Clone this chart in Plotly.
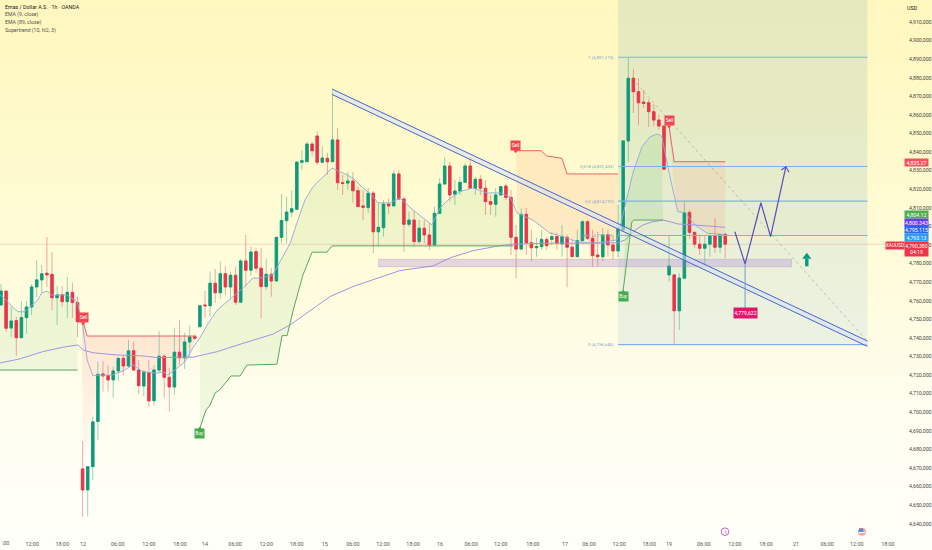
import plotly.graph_objects as go

W, H = 932, 550
# ---- candle data (price in thousands as shown on the axis, bar index on x)
opens = [4757.7,4765.2,4745.3,4749.3,4740.1,4750.9,4756.6,4767.4,4771.2,4774.8,4774.2,4761.6,4763.2,4759.5,4764.5,4759.0,
4669.5,4658.2,4670.7,4695.0,4720.6,4719.7,4717.4,4722.2,4729.0,4724.9,4733.1,4722.7,4714.1,4721.3,4706.2,4722.7,
4730.1,4718.8,4713.6,4732.3,4729.2,4737.8,4740.7,4746.0,4757.7,4757.3,4769.4,4764.3,4774.5,4767.4,4773.7,4759.2,
4781.4,4776.4,4786.4,4777.5,4767.6,4774.2,4770.6,4794.1,4803.1,4807.7,4809.2,4834.5,4834.8,4844.3,4848.6,4834.5,
4836.6,4834.8,4846.5,4823.5,4823.3,4824.4,4819.2,4811.0,4810.1,4817.8,4797.1,4799.3,4812.0,4811.0,4828.2,4814.7,
4801.1,4803.4,4791.8,4799.0,4795.4,4790.0,4807.0,4822.8,4832.5,4817.3,4819.0,4823.7,4832.5,4820.5,4825.3,4820.5,
4813.3,4811.9,4816.9,4821.7,4815.6,4794.1,4787.8,4806.5,4791.2,4788.5,4789.1,4793.0,4793.0,4794.5,4790.5,4794.1,
4788.8,4783.7,4792.3,4802.5,4793.6,4784.6,4783.7,4795.4,4790.0,4786.8,4798.1,4846.0,4879.7,4872.5,4866.9,4866.5,
4861.7,4857.2,4854.0,4773.9,4773.9,4754.6,4772.1,4807.4,4796.8,4790.4,4788.2,4790.4,4795.0,4788.8,4795.7]
highs = [4769.0,4765.2,4756.6,4751.3,4759.9,4759.9,4769.0,4781.9,4779.2,4794.3,4786.2,4768.0,4768.0,4772.8,4769.7,4762.2,
4684.5,4671.1,4697.6,4727.2,4727.6,4725.4,4724.5,4729.2,4730.8,4738.9,4738.0,4728.1,4722.7,4728.1,4725.4,4743.7,
4731.2,4723.8,4745.5,4749.6,4742.6,4746.6,4742.1,4757.7,4765.2,4775.6,4777.1,4781.0,4778.7,4775.6,4778.3,4782.5,
4795.4,4789.1,4788.4,4788.4,4782.5,4777.6,4794.3,4817.4,4816.0,4819.6,4834.6,4841.1,4845.6,4845.6,4851.0,4843.2,
4839.6,4873.4,4852.9,4827.7,4829.3,4829.4,4821.4,4819.6,4820.7,4819.0,4812.6,4814.2,4815.1,4830.0,4830.3,4816.0,
4807.9,4808.3,4803.4,4803.4,4801.7,4810.6,4825.9,4837.2,4834.8,4825.0,4826.7,4834.0,4837.5,4826.7,4827.6,4825.0,
4816.9,4820.7,4821.7,4822.8,4819.6,4800.8,4809.7,4809.9,4798.1,4793.8,4798.1,4794.5,4797.1,4796.4,4800.8,4795.4,
4792.7,4798.1,4803.4,4803.4,4798.1,4797.1,4799.1,4798.1,4794.5,4811.5,4846.0,4891.1,4884.7,4879.8,4873.4,4868.5,
4865.8,4859.9,4854.0,4794.8,4773.9,4774.9,4813.8,4808.8,4797.0,4795.4,4795.4,4796.4,4804.4,4795.9,4796.6]
lows = [4757.7,4743.2,4740.5,4730.3,4740.1,4742.1,4752.3,4762.0,4764.2,4767.4,4755.0,4747.0,4756.8,4750.7,4750.7,4740.5,
4643.8,4643.8,4663.6,4685.1,4711.1,4711.1,4707.8,4716.8,4720.0,4723.8,4722.7,4709.8,4708.4,4703.0,4703.5,4721.8,
4707.8,4700.3,4709.3,4725.4,4723.3,4729.2,4738.9,4746.0,4750.7,4751.4,4758.8,4761.0,4763.1,4761.5,4757.7,4759.2,
4767.6,4773.5,4775.0,4750.5,4765.8,4762.2,4770.6,4790.9,4790.9,4805.0,4809.2,4830.3,4834.8,4837.5,4833.0,4834.1,
4827.7,4834.6,4819.6,4816.9,4819.6,4812.7,4810.6,4803.4,4807.2,4785.7,4789.1,4794.5,4806.7,4811.0,4814.2,4786.4,
4799.8,4789.1,4790.9,4790.9,4787.3,4790.0,4807.0,4822.3,4813.3,4811.5,4816.9,4823.3,4820.5,4816.9,4816.9,4806.1,
4806.1,4805.2,4816.9,4814.2,4784.6,4772.1,4787.8,4784.6,4781.0,4783.7,4787.3,4787.3,4790.0,4787.3,4783.7,4767.2,
4783.7,4783.7,4792.3,4792.7,4778.3,4778.3,4781.0,4783.7,4782.0,4783.5,4797.0,4834.8,4861.0,4854.6,4863.7,4853.5,
4854.0,4851.9,4830.3,4770.2,4736.2,4744.3,4772.1,4793.2,4788.4,4784.6,4779.2,4783.7,4785.7,4785.7,4782.8]
closes = [4765.2,4745.2,4749.1,4740.1,4750.9,4756.6,4767.4,4771.2,4774.5,4773.9,4761.6,4763.1,4759.5,4764.5,4759.0,4748.7,
4658.2,4670.7,4694.8,4720.4,4719.5,4717.4,4722.2,4729.0,4724.9,4733.0,4722.7,4714.3,4721.7,4706.1,4722.7,4730.1,
4718.8,4713.6,4732.3,4729.2,4737.8,4740.5,4739.8,4757.3,4757.3,4769.4,4764.3,4774.5,4767.4,4773.7,4759.2,4781.4,
4776.4,4786.2,4777.5,4767.6,4774.2,4770.6,4794.1,4803.1,4807.7,4809.5,4834.6,4835.3,4844.3,4840.7,4834.5,4836.8,
4834.8,4846.5,4823.5,4823.1,4824.4,4819.2,4810.6,4810.3,4817.8,4797.1,4799.5,4812.0,4811.0,4828.2,4814.7,4801.1,
4803.4,4791.8,4799.0,4795.4,4790.0,4807.0,4822.8,4832.5,4816.9,4819.0,4823.7,4832.5,4820.5,4825.3,4820.5,4813.3,
4811.9,4816.9,4821.4,4815.6,4794.1,4787.8,4806.5,4791.2,4788.5,4789.1,4793.0,4789.6,4794.5,4790.9,4794.5,4788.8,
4783.7,4792.3,4802.5,4793.6,4784.2,4783.7,4795.4,4790.0,4786.8,4798.6,4846.0,4879.7,4872.5,4866.5,4866.2,4861.7,
4857.2,4854.0,4830.7,4778.7,4754.6,4772.2,4807.4,4796.8,4790.4,4788.2,4790.4,4795.0,4788.8,4795.7,4790.4]

# ---- indicator vertices
ema9_x = [-0.2,0.8,2.2,3.3,4.7,5.7,7.1,8.0,9.0,10.2,11.2,12.9,14.9,15.9,16.9,18.0,21.8,23.9,25.9,27.8,30.6,31.8,32.7,34.1,36.1,37.6,39.0,40.4,42.4,43.5,45.5,47.5,49.4,50.8,53.3,54.7,56.7,58.0,59.6,61.2,63.1,64.9,67.1,69.0,71.0,72.7,73.9,76.3,78.2,80.8,84.5,86.1,87.6,90.0,92.5,95.3,97.8,99.8,101.2,104.3,107.6,110.2,112.9,116.1,120.8,122.7,123.9,125.7,127.3,128.8,129.6,130.8,132.2,132.7,134.1,136.1,138.4,142.0]
ema9_y = [4763.1,4761.0,4756.8,4754.1,4754.1,4756.8,4760.0,4764.2,4765.2,4762.6,4763.1,4763.1,4759.5,4748.7,4728.1,4719.8,4720.0,4722.2,4725.4,4721.8,4721.0,4721.8,4720.0,4722.7,4727.2,4734.6,4740.0,4746.9,4755.0,4757.7,4762.2,4766.9,4772.2,4772.2,4773.9,4781.0,4790.9,4801.7,4814.2,4821.4,4826.7,4831.4,4828.7,4826.0,4820.7,4816.9,4812.7,4812.6,4815.3,4808.8,4800.8,4809.9,4814.2,4818.7,4820.7,4818.0,4818.0,4816.0,4807.2,4803.4,4796.4,4794.5,4791.8,4790.9,4792.7,4814.2,4828.7,4842.9,4848.3,4849.7,4848.3,4831.4,4814.2,4807.9,4807.4,4800.7,4796.4,4795.4]
ema89_x = [-0.2,3.7,8.2,12.2,15.1,16.1,18.0,22.7,27.8,30.6,37.6,42.4,47.5,53.3,56.7,58.6,64.5,69.0,72.9,78.2,84.7,88.0,92.5,97.8,100.4,106.3,120.8,122.4,123.9,125.9,127.8,129.8,131.2,132.7,135.7,142.0]
ema89_y = [4726.5,4728.7,4732.6,4735.0,4736.2,4733.5,4732.0,4730.8,4730.3,4729.4,4729.6,4732.6,4737.1,4742.0,4747.0,4750.7,4762.2,4767.6,4771.2,4776.2,4778.7,4783.0,4786.9,4789.6,4790.4,4790.9,4791.1,4792.7,4797.1,4800.8,4802.5,4803.4,4802.5,4801.3,4800.8,4799.5]
st_up1_x = [-0.2,15.0]
st_up1_y = [4722.7,4722.7]
st_dn1_x = [15.9,16.9,38.2]
st_dn1_y = [4750.7,4741.0,4741.0]
st_up2_x = [39,40.2,41,42,42.9,44.3,45.1,46.9,48.2,54.1,55.1,56.1,57.3,59.2,61,63.9,64.9,100.4]
st_up2_y = [4691.5,4701.2,4703.9,4710.4,4712.0,4716.4,4719.5,4719.5,4725.4,4725.8,4741.2,4741.2,4755.0,4773.8,4786.1,4786.1,4789.5,4789.5]
st_dn2_x = [101,105.9,107,110,111,121]
st_dn2_y = [4840.7,4840.7,4837.9,4836.6,4828.2,4828.2]
st_up3_x = [122,123.7,124.1,129.8]
st_up3_y = [4765.8,4802.5,4803.4,4803.4]
st_dn3_x = [131,132,142]
st_dn3_y = [4853.6,4834.8,4834.8]
dn1_floor_x = [16,17.5,19]
dn1_floor_y = [4669.0,4685.0,4720.0]

# ---- drawings
fib_levels = [4891.0,4832.2,4813.6,4795.1,4736.4]
fib_labels = ["1 (4,891,219)","0,618 (4,832,453)","0,5 (4,814,192)","0,382 (4,795,115)","0 (4,736,645)"]
trend_x = [64.9,169.9]
trend_upper = [4873.9,4738.3]
trend_lower = [4871.0,4735.4]
path_x = [143.9,145.9,149.0,150.9,153.9]
path_y = [4797.1,4779.8,4812.7,4794.5,4832.1]
head_x = [153.0,153.9,154.5]
head_y = [4830.3,4832.1,4829.1]
target_x = [145.9,145.9]
target_y = [4779.8,4755.0]
dashed_x = [124.5,169.9]
dashed_y = [4877.2,4738.1]
zone_x = [74.0,155.0]
zone_y = [4778.3,4782.3]
rect_x = [121.0,169.9]
rect_top = 4921.8
rect_mid = 4795.0
rect_bot = 4736.2
last_price = 4790.38

price_ticks = list(range(4640, 4911, 10))
price_text = ["4,%d,000" % (v - 4000) for v in price_ticks]
time_ticks = [6.1,12,16.1,22.9,29,35.1,40,45.9,52,58,63.5,69,74.9,80.8,86.1,92.2,98,104.3,110.6,115.3,121.2,127.1,131,137.8,143.9,150,155.9,162,167.8,173.9]
time_text = ["12:00","18:00","12","06:00","12:00","18:00","14","06:00","12:00","18:00","15","06:00","12:00","18:00","16","06:00","12:00","18:00","17","06:00","12:00","18:00","19","06:00","12:00","18:00","21","06:00","12:00","18:00"]
legend_lines = ["EMA (9, close)","EMA (89, close)","Supertrend (10, hl2, 3)"]
legend_title = "Emas / Dollar A.S. · 1h · OANDA"

bg_rows = [0,0.2,0.4,0.6,0.8,1]
FONT = "Roboto"
XR = [-0.196, 176.08]
YR = [4633.4, 4921.8]
ymin_dom = 14/550

fig = go.Figure()
# background gradient across the whole page
fig.add_trace(go.Heatmap(x=[0,1], y=bg_rows, z=[[v,v] for v in bg_rows], zsmooth="best", showscale=False,
    zmin=0, zmax=1, hoverinfo="skip", xaxis="x", yaxis="y",
    colorscale=[[0,"#FFFFFA"],[0.25,"#FFFEF0"],[0.5,"#FFFCDC"],[0.75,"#FFFACB"],[1,"#FFF7BE"]]))

def slice_ema(a, b):
    pts = [(x, y) for x, y in zip(ema9_x, ema9_y) if a <= x <= b]
    return [p[0] for p in pts], [p[1] for p in pts]

def poly(xa, ya, xb, yb, color=None, grad=None):
    xs = list(xa) + list(xb)[::-1]
    ys = list(ya) + list(yb)[::-1]
    kw = dict(x=xs, y=ys, mode="lines", line=dict(width=0), fill="toself", hoverinfo="skip", xaxis="x2", yaxis="y2")
    if grad:
        kw["fillgradient"] = grad
    else:
        kw["fillcolor"] = color
    fig.add_trace(go.Scatter(**kw))

# position-tool rectangle (below candles)
poly(rect_x, [rect_top, rect_top], rect_x, [rect_mid, rect_mid], "rgba(100,160,180,0.16)")
poly(rect_x, [rect_mid, rect_mid], rect_x, [rect_bot, rect_bot], "rgba(100,170,205,0.13)")
# supertrend fills
xe, ye = slice_ema(-1, 15)
poly(xe, ye, st_up1_x, st_up1_y, "rgba(140,205,130,0.14)")
xe, ye = slice_ema(21, 38.2)
poly(st_dn1_x, st_dn1_y, dn1_floor_x + xe, dn1_floor_y + ye,
     grad=dict(type="vertical", colorscale=[[0,"rgba(250,190,175,0.04)"],[0.6,"rgba(250,175,160,0.20)"],[1,"rgba(250,170,150,0.30)"]]))
xe, ye = slice_ema(39, 100.4)
poly(xe, ye, st_up2_x, st_up2_y, "rgba(140,205,130,0.14)")
xe, ye = slice_ema(101, 120.8)
poly(st_dn2_x, st_dn2_y, xe, ye, "rgba(250,170,120,0.20)")
xe, ye = slice_ema(122, 129.7)
poly(xe, ye, st_up3_x, st_up3_y, "rgba(100,200,110,0.16)")
xe, ye = slice_ema(132, 142)
poly(st_dn3_x, st_dn3_y, xe, ye, "rgba(250,150,120,0.16)")

idx = list(range(len(opens)))
GREEN, RED = "#0C9B79", "#EA3348"
# wicks
fig.add_trace(go.Candlestick(x=idx, open=opens, high=highs, low=lows, close=closes, xaxis="x3", yaxis="y3",
    whiskerwidth=0, hoverinfo="skip",
    increasing=dict(line=dict(color="rgba(12,155,121,0.42)", width=1), fillcolor="rgba(0,0,0,0)"),
    decreasing=dict(line=dict(color="rgba(234,51,72,0.42)", width=1), fillcolor="rgba(0,0,0,0)")))
# bodies
fig.add_trace(go.Candlestick(x=idx, open=opens, close=closes,
    high=[max(o, c) for o, c in zip(opens, closes)], low=[min(o, c) for o, c in zip(opens, closes)],
    xaxis="x3", yaxis="y3", whiskerwidth=0, hoverinfo="skip",
    increasing=dict(line=dict(color=GREEN, width=0.8), fillcolor=GREEN),
    decreasing=dict(line=dict(color=RED, width=0.8), fillcolor=RED)))

def line(x, y, color, width=1, dash=None, mode="lines"):
    fig.add_trace(go.Scatter(x=x, y=y, mode=mode, line=dict(color=color, width=width, dash=dash),
                             hoverinfo="skip", xaxis="x3", yaxis="y3"))

line(XR, [last_price, last_price], "rgba(215,110,110,0.38)", 0.7)
for lv in fib_levels:
    line(rect_x, [lv, lv], "#7FB1E8", 1.15)
line(dashed_x, dashed_y, "rgba(125,130,125,0.55)", 0.8, "dot")
line(ema89_x, ema89_y, "#A294E2", 1)
line(ema9_x, ema9_y, "#93A9D8", 0.9)
line(st_up1_x, st_up1_y, "#5AA860", 1)
line(st_up2_x, st_up2_y, "#5AA860", 1)
line(st_up3_x, st_up3_y, "#5AA860", 1)
line(st_dn1_x, st_dn1_y, "#F0606A", 1)
line(st_dn2_x, st_dn2_y, "#F0606A", 1)
line(st_dn3_x, st_dn3_y, "#F0606A", 1)

# purple support zone
fig.add_trace(go.Scatter(x=[zone_x[0],zone_x[1],zone_x[1],zone_x[0],zone_x[0]],
    y=[zone_y[0],zone_y[0],zone_y[1],zone_y[1],zone_y[0]], mode="lines", fill="toself",
    fillcolor="rgba(160,120,215,0.28)", line=dict(color="rgba(160,120,215,0.4)", width=0.7),
    hoverinfo="skip", xaxis="x3", yaxis="y3"))
# trendline channel
fig.add_trace(go.Scatter(x=trend_x + trend_x[::-1], y=trend_upper + trend_lower[::-1], mode="lines", fill="toself",
    fillcolor="rgba(215,222,250,0.55)", line=dict(width=0), hoverinfo="skip", xaxis="x3", yaxis="y3"))
line(trend_x, trend_upper, "#3F5FC4", 0.95)
line(trend_x, trend_lower, "#3F5FC4", 0.95)
# projected path
line(target_x, target_y, "#6D9CDA", 1)
line(path_x, path_y, "#5A4DBA", 1.2)
line(head_x, head_y, "#5A4DBA", 1.1)
# green up arrow
line([158.0,158.0], [4778.5,4782.5], "#089981", 3.4)
fig.add_trace(go.Scatter(x=[158.0], y=[4783.6], mode="markers", marker=dict(symbol="triangle-up", size=8, color="#089981"),
    hoverinfo="skip", xaxis="x3", yaxis="y3"))

# signal labels
signals = [("Sell",16.1,4750.7),("Sell",100.9,4843.3),("Sell",131.0,4856.7),("Buy",39.0,4688.3),("Buy",122.0,4762.0)]
ann = []
for txt, sx, sy in signals:
    col = "#F0464F" if txt == "Sell" else "#43AC4C"
    offs = -2.9 if txt == "Sell" else 2.9
    fig.add_trace(go.Scatter(x=[sx], y=[sy+offs], mode="markers",
        marker=dict(symbol="triangle-down" if txt == "Sell" else "triangle-up", size=4, color=col),
        hoverinfo="skip", xaxis="x3", yaxis="y3"))
    ann.append(dict(x=sx, y=sy, xref="x3", yref="y3", text=txt, showarrow=False, bgcolor=col, width=9, height=8.5,
                    xanchor="center", borderpad=0, font=dict(family=FONT, size=4.8, color="white")))
# target tag
ann.append(dict(x=145.9, y=4753.4, xref="x3", yref="y3", text="4,779,622", showarrow=False, bgcolor="#E0186C",
                width=23, height=9.5, xanchor="center", borderpad=0, font=dict(family=FONT, size=5.2, color="white")))
# fib labels
for lv, t in zip(fib_levels, fib_labels):
    ann.append(dict(x=120.6, y=lv, xref="x3", yref="y3", text=t, showarrow=False, xanchor="right",
                    font=dict(family=FONT, size=4.4, color="#7FA6CE")))
# price-axis tags
tags = [("4,835.27","#F0535D",162),("4,804.12","#4CAF50",214.7),("4,800.343","#6B3CF0",222.3),
        ("4,795.115","#2F66F0",229.7),("4,793.13","#2E9BF0",237)]
for t, c, yp in tags:
    ann.append(dict(x=916.5/W, y=1-yp/H, xref="paper", yref="paper", text=t, showarrow=False, bgcolor=c, width=23, height=7.4,
                    xanchor="center", borderpad=0, font=dict(family=FONT, size=5.2, color="white")))
ann.append(dict(x=916.5/W, y=1-248.7/H, xref="paper", yref="paper", text="4,790,380<br>04:19", showarrow=False,
                bgcolor="#F0364A", width=23, height=14, xanchor="center", borderpad=0, font=dict(family=FONT, size=5.2, color="white")))
ann.append(dict(x=894.5/W, y=1-245.4/H, xref="paper", yref="paper", text="XAUUSD", showarrow=False,
                bgcolor="#F0364A", width=18, height=7.4, xanchor="center", borderpad=0, font=dict(family=FONT, size=4.8, color="white")))
ann.append(dict(x=912/W, y=1-7.5/H, xref="paper", yref="paper", text="USD", showarrow=False, xanchor="center",
                font=dict(family=FONT, size=5.4, color="#222")))
ann.append(dict(x=0, y=1-543/H, xref="paper", yref="paper", text=":00", showarrow=False, xanchor="left",
                font=dict(family=FONT, size=5.4, color="#555")))
# legend text
ann.append(dict(x=3/W, y=1-7.3/H, xref="paper", yref="paper", xanchor="left", text=legend_title, showarrow=False,
                font=dict(family=FONT, size=5.3, color="#222")))
for k, t in enumerate(legend_lines):
    ann.append(dict(x=3/W, y=1-(15+7.6*k)/H, xref="paper", yref="paper", xanchor="left", text=t, showarrow=False,
                    font=dict(family=FONT, size=5.2, color="#555")))
ann.append(dict(x=725/W, y=1-531.7/H, xref="paper", yref="paper", text="ϟ", showarrow=False, xanchor="center",
                font=dict(family="DejaVu Sans", size=5, color="#B44FD0")))
for a in ann:
    a["yanchor"] = "middle"

def circle(cx, cy, r, fill, stroke=None, sw=0):
    return dict(type="circle", xref="paper", yref="paper", x0=(cx-r)/W, x1=(cx+r)/W, y0=1-(cy+r)/H, y1=1-(cy-r)/H,
                fillcolor=fill, line=dict(color=stroke or fill, width=sw))
shapes = [circle(725,531.7,3.8,"rgba(255,255,255,0)","#B44FD0",0.9),
          circle(862,531.7,4,"#F4A7A7"),
          circle(861,530.5,2.4,"#5B8FD8"),
          dict(type="line", xref="paper", yref="paper", x0=859/W, x1=865/W, y0=1-532.5/H, y1=1-532.5/H, line=dict(color="white", width=1))]

hidden = dict(visible=False, showgrid=False, zeroline=False)
fig.update_layout(
    width=W, height=H, margin=dict(l=0, r=0, t=0, b=0, pad=0), autosize=False, showlegend=False,
    paper_bgcolor="#FFFFFB", plot_bgcolor="rgba(0,0,0,0)",
    xaxis=dict(domain=[0,1], range=[0,1], **hidden),
    yaxis=dict(domain=[0,1], range=[0,1], **hidden),
    xaxis2=dict(domain=[0,899/W], range=XR, anchor="y2", rangeslider=dict(visible=False), **hidden),
    yaxis2=dict(domain=[ymin_dom,1], range=YR, anchor="x2", **hidden),
    xaxis3=dict(domain=[0,899/W], range=XR, anchor="y3", rangeslider=dict(visible=False), showgrid=False, zeroline=False,
                tickmode="array", tickvals=time_ticks, ticktext=time_text, tickangle=0, ticks="outside", ticklen=3,
                tickcolor="rgba(0,0,0,0)", showline=False, tickfont=dict(family=FONT, size=5.4, color="#555")),
    yaxis3=dict(domain=[ymin_dom,1], range=YR, anchor="x3", side="right", showgrid=False, zeroline=False, showline=False,
                tickmode="array", tickvals=price_ticks, ticktext=price_text, ticks="outside", ticklen=8,
                tickcolor="rgba(0,0,0,0)", tickfont=dict(family=FONT, size=5.2, color="#444")),
    annotations=ann, shapes=shapes,
)
fig.write_html("out.html", config=dict(displayModeBar=False),
               post_script="document.body.style.margin='0';document.documentElement.style.overflow='hidden';")
